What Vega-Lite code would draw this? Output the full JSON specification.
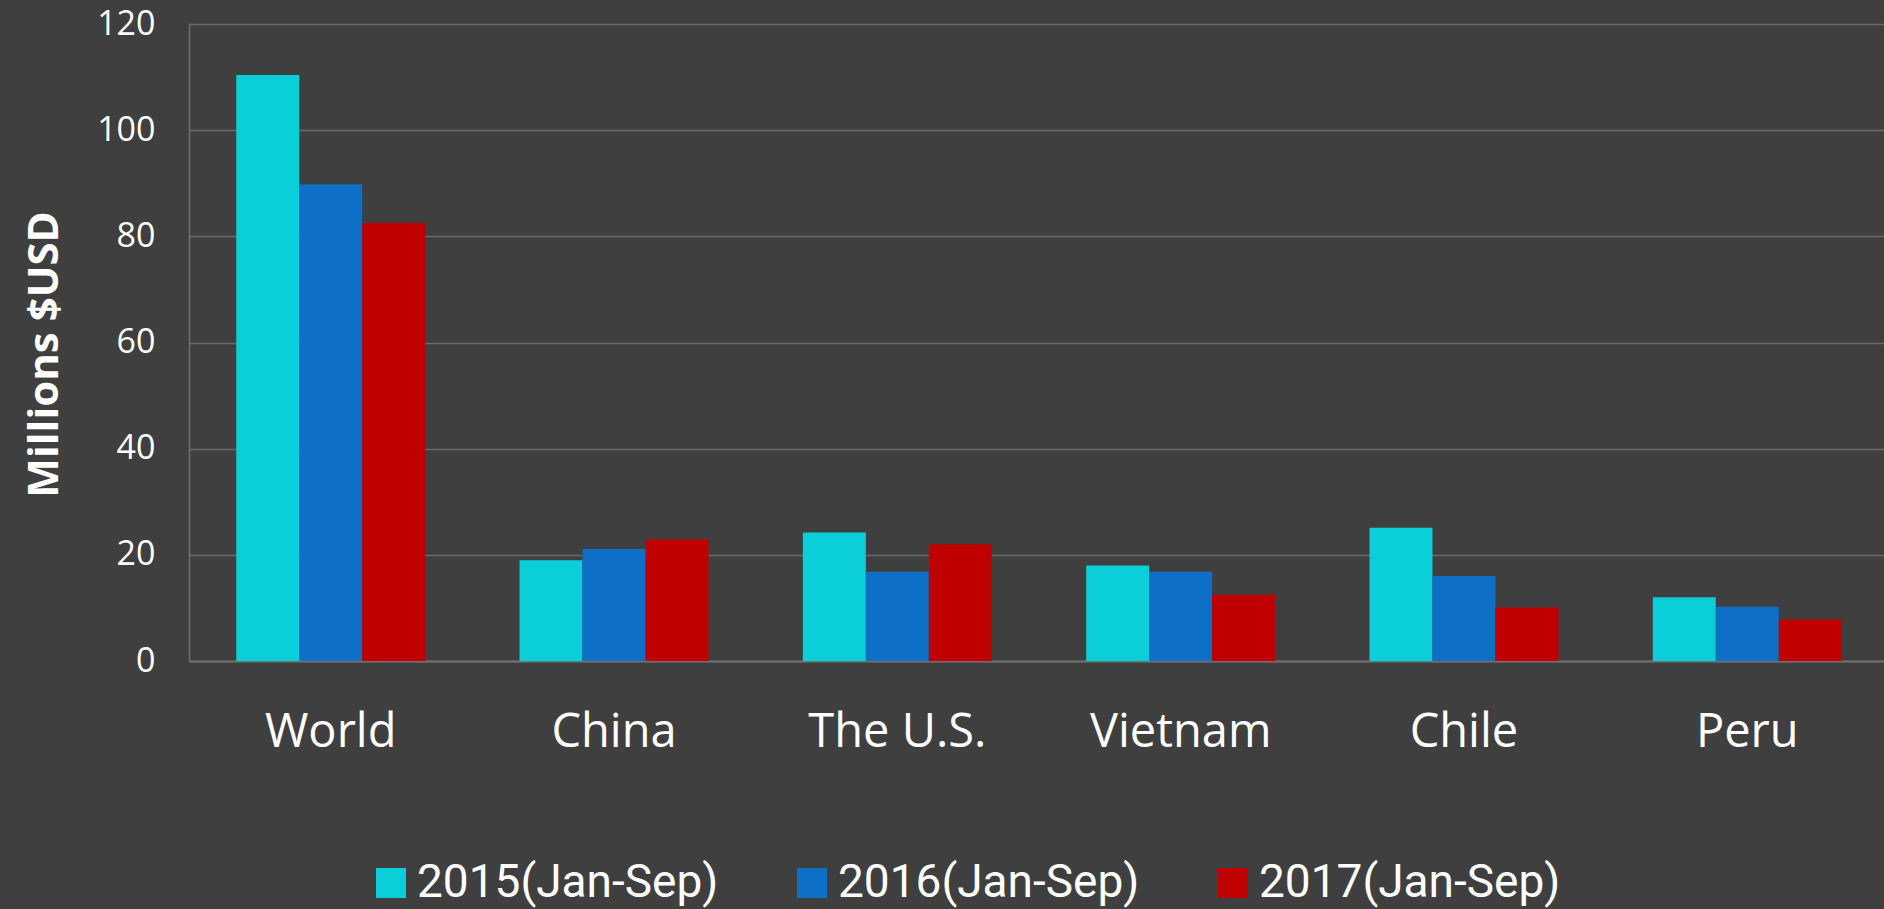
{
  "$schema": "https://vega.github.io/schema/vega-lite/v6.json",
  "autosize": "none",
  "width": 1700,
  "height": 637,
  "padding": {"left": 189, "top": 24, "right": 0, "bottom": 248},
  "background": "#3F3F3F",
  "data": {
    "values": [
      {"country": "World", "period": "2015(Jan-Sep)", "value": 110.4},
      {"country": "World", "period": "2016(Jan-Sep)", "value": 89.8},
      {"country": "World", "period": "2017(Jan-Sep)", "value": 82.5},
      {"country": "China", "period": "2015(Jan-Sep)", "value": 19.0},
      {"country": "China", "period": "2016(Jan-Sep)", "value": 21.1},
      {"country": "China", "period": "2017(Jan-Sep)", "value": 22.9},
      {"country": "The U.S.", "period": "2015(Jan-Sep)", "value": 24.2},
      {"country": "The U.S.", "period": "2016(Jan-Sep)", "value": 16.8},
      {"country": "The U.S.", "period": "2017(Jan-Sep)", "value": 22.0},
      {"country": "Vietnam", "period": "2015(Jan-Sep)", "value": 18.0},
      {"country": "Vietnam", "period": "2016(Jan-Sep)", "value": 16.8},
      {"country": "Vietnam", "period": "2017(Jan-Sep)", "value": 12.5},
      {"country": "Chile", "period": "2015(Jan-Sep)", "value": 25.1},
      {"country": "Chile", "period": "2016(Jan-Sep)", "value": 16.0},
      {"country": "Chile", "period": "2017(Jan-Sep)", "value": 10.1},
      {"country": "Peru", "period": "2015(Jan-Sep)", "value": 12.0},
      {"country": "Peru", "period": "2016(Jan-Sep)", "value": 10.2},
      {"country": "Peru", "period": "2017(Jan-Sep)", "value": 7.8}
    ]
  },
  "mark": {"type": "bar"},
  "encoding": {
    "x": {
      "field": "country",
      "type": "nominal",
      "sort": ["World", "China", "The U.S.", "Vietnam", "Chile", "Peru"],
      "scale": {"paddingInner": 0.333, "paddingOuter": 0.1667},
      "axis": {
        "title": null,
        "labelAngle": 0,
        "labelFont": "Open Sans",
        "labelFontSize": 47,
        "labelColor": "#FFFFFF",
        "labelPadding": 48,
        "labelLimit": 400,
        "ticks": false,
        "domainColor": "#707070",
        "domainWidth": 2
      }
    },
    "xOffset": {
      "field": "period",
      "type": "nominal",
      "scale": {"paddingInner": 0, "paddingOuter": 0}
    },
    "y": {
      "field": "value",
      "type": "quantitative",
      "scale": {"domain": [0, 120], "nice": false},
      "axis": {
        "title": "Millions $USD",
        "titleFont": "Open Sans",
        "titleFontWeight": "bold",
        "titleFontSize": 42,
        "titleColor": "#FFFFFF",
        "titleX": -145,
        "titleY": 330,
        "titleAngle": -90,
        "titleAlign": "center",
        "titleBaseline": "middle",
        "values": [0, 20, 40, 60, 80, 100, 120],
        "labelFont": "Open Sans",
        "labelFontSize": 34,
        "labelColor": "#FFFFFF",
        "labelPadding": 34,
        "ticks": false,
        "domainColor": "#707070",
        "domainWidth": 1.5,
        "grid": true,
        "gridColor": "#6A6A6A",
        "gridWidth": 1.5
      }
    },
    "color": {
      "field": "period",
      "type": "nominal",
      "scale": {
        "domain": ["2015(Jan-Sep)", "2016(Jan-Sep)", "2017(Jan-Sep)"],
        "range": ["#0BCFD8", "#0E6FC6", "#C00000"]
      },
      "legend": {
        "title": null,
        "orient": "none",
        "legendX": 179,
        "legendY": 836,
        "direction": "horizontal",
        "symbolType": "square",
        "symbolSize": 900,
        "symbolStrokeWidth": 0,
        "labelFont": "Roboto",
        "labelFontSize": 46,
        "labelColor": "#FFFFFF",
        "labelOffset": 3,
        "columnPadding": 70,
        "labelLimit": 500
      }
    }
  },
  "config": {
    "view": {"stroke": null}
  }
}
